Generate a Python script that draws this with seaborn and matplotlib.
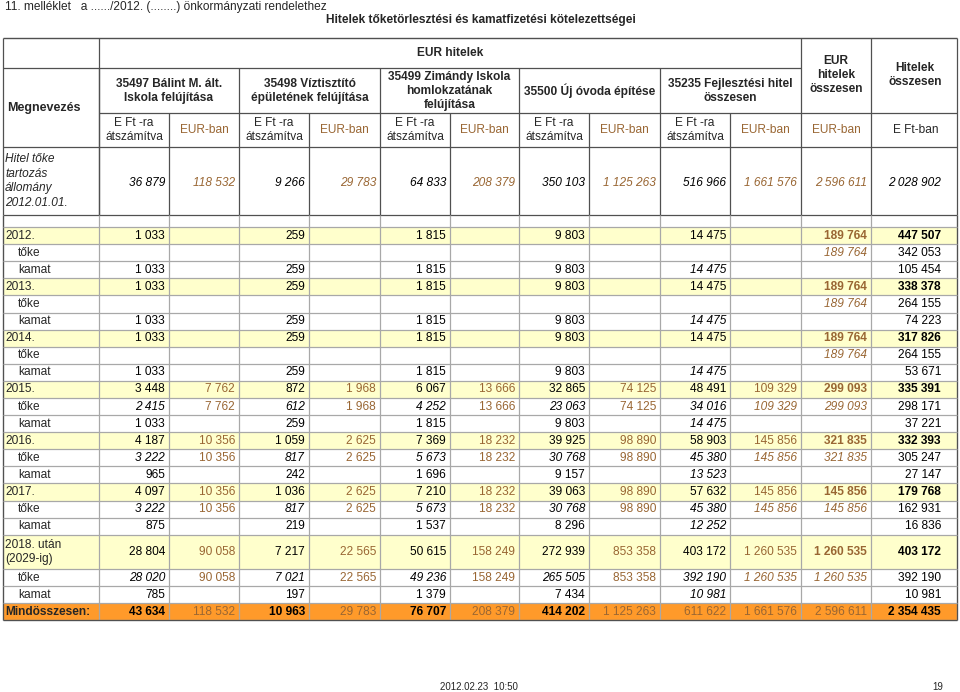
import numpy as np
import matplotlib
matplotlib.use("Agg")
from matplotlib import pyplot as plt
from matplotlib.patches import Rectangle
import seaborn as sns

sns.set_theme(style="white")
plt.rcParams['font.family'] = ['Liberation Sans', 'DejaVu Sans']

# --- data -------------------------------------------------------------
projects = ["35497 Bálint M. ált.\nIskola felújítása",
            "35498 Víztisztító\népületének felújítása",
            "35499 Zimándy Iskola\nhomlokzatának\nfelújítása",
            "35500 Új óvoda építése",
            "35235 Fejlesztési hitel\nösszesen"]

row_labels = ["2012.", "tőke", "kamat", "2013.", "tőke", "kamat",
              "2014.", "tőke", "kamat", "2015.", "tőke", "kamat",
              "2016.", "tőke", "kamat", "2017.", "tőke", "kamat",
              "2018. után\n(2029-ig)", "tőke", "kamat", "Mindösszesen:"]

opening = [36879, 118532, 9266, 29783, 64833, 208379, 350103, 1125263,
           516966, 1661576, 2596611, 2028902]

balint_eft = [1033, None, 1033, 1033, None, 1033, 1033, None, 1033,
              3448, 2415, 1033, 4187, 3222, 965, 4097, 3222, 875,
              28804, 28020, 785, 43634]
balint_eur = [None] * 9 + [7762, 7762, None, 10356, 10356, None,
                           10356, 10356, None, 90058, 90058, None, 118532]
viz_eft = [259, None, 259, 259, None, 259, 259, None, 259,
           872, 612, 259, 1059, 817, 242, 1036, 817, 219,
           7217, 7021, 197, 10963]
viz_eur = [None] * 9 + [1968, 1968, None, 2625, 2625, None,
                        2625, 2625, None, 22565, 22565, None, 29783]
zim_eft = [1815, None, 1815, 1815, None, 1815, 1815, None, 1815,
           6067, 4252, 1815, 7369, 5673, 1696, 7210, 5673, 1537,
           50615, 49236, 1379, 76707]
zim_eur = [None] * 9 + [13666, 13666, None, 18232, 18232, None,
                        18232, 18232, None, 158249, 158249, None, 208379]
ovoda_eft = [9803, None, 9803, 9803, None, 9803, 9803, None, 9803,
             32865, 23063, 9803, 39925, 30768, 9157, 39063, 30768, 8296,
             272939, 265505, 7434, 414202]
ovoda_eur = [None] * 9 + [74125, 74125, None, 98890, 98890, None,
                          98890, 98890, None, 853358, 853358, None, 1125263]
fejl_eft = [14475, None, 14475, 14475, None, 14475, 14475, None, 14475,
            48491, 34016, 14475, 58903, 45380, 13523, 57632, 45380, 12252,
            403172, 392190, 10981, 611622]
fejl_eur = [None] * 9 + [109329, 109329, None, 145856, 145856, None,
                         145856, 145856, None, 1260535, 1260535, None, 1661576]
eur_total = [189764, 189764, None, 189764, 189764, None, 189764, 189764, None,
             299093, 299093, None, 321835, 321835, None, 145856, 145856, None,
             1260535, 1260535, None, 2596611]
ft_total = [447507, 342053, 105454, 338378, 264155, 74223, 317826, 264155, 53671,
            335391, 298171, 37221, 332393, 305247, 27147, 179768, 162931, 16836,
            403172, 392190, 10981, 2354435]

columns = [balint_eft, balint_eur, viz_eft, viz_eur, zim_eft, zim_eur,
           ovoda_eft, ovoda_eur, fejl_eft, fejl_eur, eur_total, ft_total]

# --- layout -----------------------------------------------------------
BROWN = '#996633'
YELLOW = '#FFFFCC'
ORANGE = '#FF9A2A'
DARK = '#505050'
GRID = '#a8a8a8'
FS = 8.6

xb = [3, 99, 169, 239, 309, 380, 450, 519, 589, 660, 730, 801, 871, 957]
pad = [4] * 11 + [16]
row_h = 17.1
heights = [row_h * (2 if "\n" in lab else 1) for lab in row_labels]
yb = np.concatenate([[227], 227 + np.cumsum(heights)])


def fmt(v):
    return f"{v:,}".replace(",", " ")


def cell_style(kind, c):
    eft = c in (0, 2, 4, 6, 8)
    color = 'black' if (eft or c == 11) else BROWN
    weight, style = 'normal', 'normal'
    if kind == 'year':
        if c in (10, 11):
            weight = 'bold'
    elif kind == 'toke':
        if eft or c in (9, 10):
            style = 'italic'
    elif kind == 'kamat':
        if c == 8:
            style = 'italic'
    elif kind == 'total':
        if c in (0, 2, 4, 6, 11):
            weight = 'bold'
        if c == 8:
            color = BROWN
    elif kind == 'open':
        style = 'italic'
    return color, weight, style


fig = plt.figure(figsize=(9.6, 6.92), dpi=100)
ax = fig.add_axes([0, 0, 1, 1])
ax.set_xlim(0, 960)
ax.set_ylim(692, 0)
ax.axis('off')

# titles
ax.text(5, 7, "11. melléklet   a ....../2012. (........) önkormányzati rendelethez",
        fontsize=FS, va='center', ha='left')
ax.text(481, 20, "Hitelek tőketörlesztési és kamatfizetési kötelezettségei",
        fontsize=FS, weight='bold', va='center', ha='center')

# row backgrounds
for i, lab in enumerate(row_labels):
    if lab.startswith("20"):
        ax.add_patch(Rectangle((xb[0], yb[i]), xb[-1] - xb[0], yb[i + 1] - yb[i],
                               color=YELLOW, lw=0, zorder=0))
    elif lab.startswith("Mind"):
        ax.add_patch(Rectangle((xb[0], yb[i]), xb[-1] - xb[0], yb[i + 1] - yb[i],
                               color=ORANGE, lw=0, zorder=0))

# header grid
ax.hlines(38, xb[0], xb[-1], color=DARK, lw=1)
ax.hlines(68, xb[0], xb[11], color=DARK, lw=0.9)
ax.hlines(113, xb[1], xb[-1], color=DARK, lw=0.9)
ax.hlines([147, 215], xb[0], xb[-1], color=DARK, lw=0.9)
for x in (xb[0], xb[1], xb[11], xb[12], xb[13]):
    ax.vlines(x, 38, 215, color=DARK, lw=0.9)
for k in range(5):
    ax.vlines(xb[1 + 2 * k], 68, 215, color=DARK, lw=0.9)
    ax.vlines(xb[2 + 2 * k], 113, 215, color=DARK, lw=0.9)

# body grid
ax.vlines(xb, 215, yb[-1], color=GRID, lw=0.9)
ax.vlines([xb[0], xb[-1]], 215, yb[-1], color=DARK, lw=0.9)
ax.hlines(yb, xb[0], xb[-1], color=GRID, lw=0.9)
ax.hlines(yb[-1], xb[0], xb[-1], color=DARK, lw=0.9)

# header texts
ax.text(450, 53, "EUR hitelek", fontsize=FS, weight='bold', ha='center', va='center')
ax.text(7, 108, "Megnevezés", fontsize=FS + 0.4, weight='bold', ha='left', va='center')
for k, name in enumerate(projects):
    xc = (xb[1 + 2 * k] + xb[3 + 2 * k]) / 2
    ax.text(xc, 91, name, fontsize=FS, weight='bold', ha='center', va='center',
            linespacing=1.25)
    ax.text((xb[1 + 2 * k] + xb[2 + 2 * k]) / 2, 130, "E Ft -ra\nátszámítva",
            fontsize=FS, ha='center', va='center', linespacing=1.25)
    ax.text((xb[2 + 2 * k] + xb[3 + 2 * k]) / 2, 130, "EUR-ban", color=BROWN,
            fontsize=FS, ha='center', va='center')
ax.text((xb[11] + xb[12]) / 2, 75, "EUR\nhitelek\nösszesen", fontsize=FS,
        weight='bold', ha='center', va='center', linespacing=1.25)
ax.text((xb[12] + xb[13]) / 2 + 1, 75, "Hitelek\nösszesen", fontsize=FS,
        weight='bold', ha='center', va='center', linespacing=1.25)
ax.text((xb[11] + xb[12]) / 2, 130, "EUR-ban", color=BROWN, fontsize=FS,
        ha='center', va='center')
ax.text((xb[12] + xb[13]) / 2 + 2, 130, "E Ft-ban", fontsize=FS, ha='center', va='center')

# opening balance row
ax.text(5, 181, "Hitel tőke\ntartozás\nállomány\n2012.01.01.", fontsize=FS,
        style='italic', ha='left', va='center', linespacing=1.3)
for c, v in enumerate(opening):
    color, weight, style = cell_style('open', c)
    ax.text(xb[c + 2] - pad[c], 183, fmt(v), fontsize=FS, color=color,
            weight=weight, style=style, ha='right', va='center')

# body rows
for i, lab in enumerate(row_labels):
    yc = (yb[i] + yb[i + 1]) / 2
    if lab in ("tőke", "kamat"):
        kind = 'toke' if lab == "tőke" else 'kamat'
        ax.text(18, yc, lab, fontsize=FS, ha='left', va='center')
    elif lab.startswith("Mind"):
        kind = 'total'
        ax.text(5, yc, lab, fontsize=FS, weight='bold', ha='left', va='center')
    else:
        kind = 'year'
        ax.text(5, yc, lab, fontsize=FS, ha='left', va='center', linespacing=1.3)
    for c, col in enumerate(columns):
        v = col[i]
        if v is None:
            continue
        color, weight, style = cell_style(kind, c)
        ax.text(xb[c + 2] - pad[c], yc, fmt(v), fontsize=FS, color=color,
                weight=weight, style=style, ha='right', va='center')

# footer
ax.text(479, 687, "2012.02.23  10:50", fontsize=7, ha='center', va='center')
ax.text(938, 687, "19", fontsize=7, ha='center', va='center')

fig.savefig("out.png", dpi=100)
